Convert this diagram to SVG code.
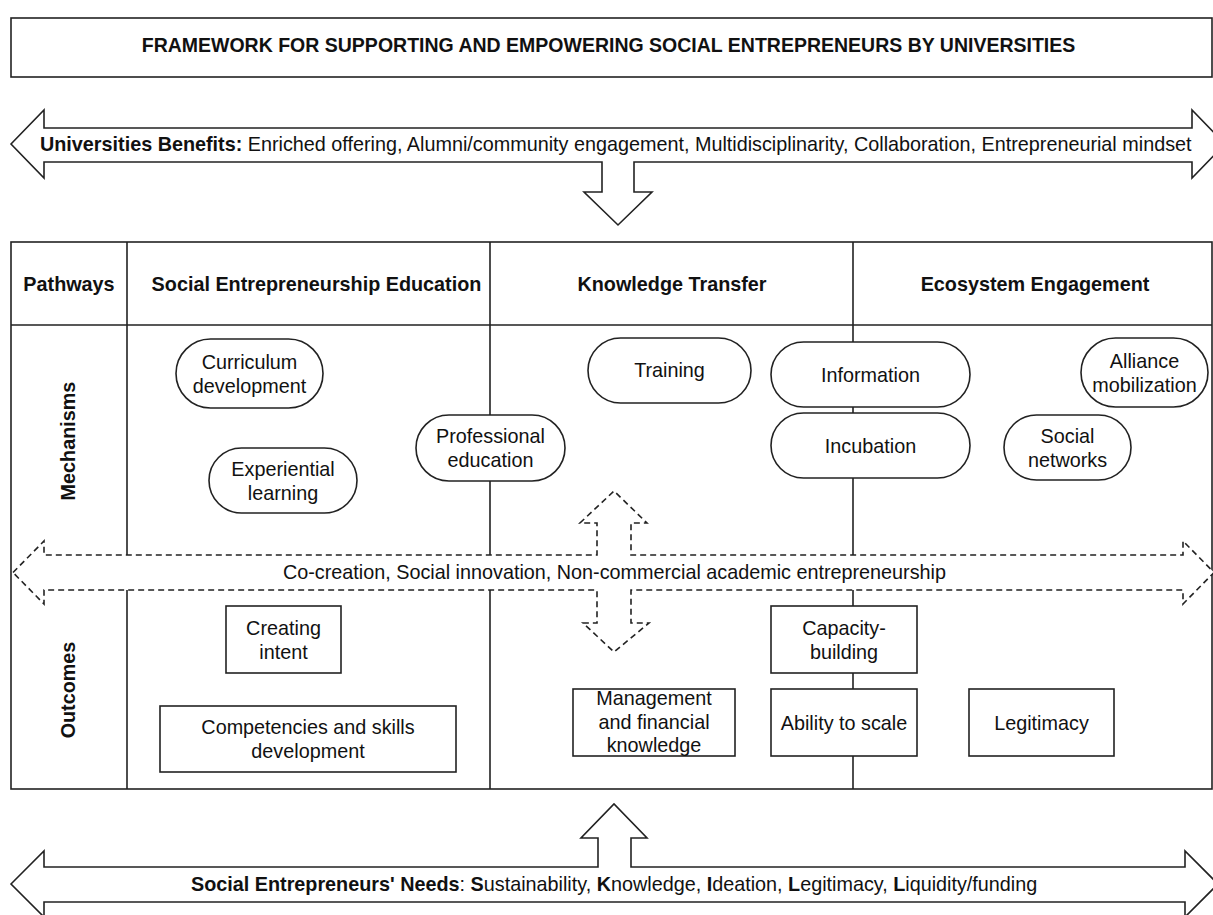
<svg xmlns="http://www.w3.org/2000/svg" width="1213" height="915" viewBox="0 0 1213 915">
<style>
.box{fill:#fff;stroke:#222;stroke-width:1.6}
.line{fill:none;stroke:#222;stroke-width:1.6}
.dash{fill:#fff;stroke:#222;stroke-width:1.6;stroke-dasharray:6 4}
text{font-family:"Liberation Sans",Arial,sans-serif;font-size:19.8px;fill:#111}
.c{text-anchor:middle}
.b{font-weight:bold}
</style>
<rect width="1213" height="915" fill="#fff"/>
<g id="title">
<rect class="box" x="11" y="18" width="1201" height="59"/>
<text class="c b" x="608.5" y="52" style="font-size:19.5px">FRAMEWORK FOR SUPPORTING AND EMPOWERING SOCIAL ENTREPRENEURS BY UNIVERSITIES</text>
</g>
<g id="table">
<rect class="box" x="11" y="242" width="1201" height="547"/>
<path class="line" d="M11 325H1212M127 242V555M127 590V789M490 242V555M490 590V789M853 242V555M853 590V789"/>
<text class="c b" x="69" y="291">Pathways</text>
<text class="c b" x="316.5" y="291">Social Entrepreneurship Education</text>
<text class="c b" x="672" y="291">Knowledge Transfer</text>
<text class="c b" x="1035" y="291">Ecosystem Engagement</text>
<text class="c b" transform="translate(75 441) rotate(-90)">Mechanisms</text>
<text class="c b" transform="translate(75 690) rotate(-90)">Outcomes</text>
</g>
<g id="connectors">
<path id="benefits-arrow" class="box" d="M11 144L44 110V128H1192V110L1225 144L1192 178V162H634V192H652L618 225L584 192H602V162H44V178Z"/>
<path id="needs-arrow" class="box" d="M11 884L44 851V867H598V838H581L614 804L647 838H631V867H1185V851L1218 884L1185 917V902H44V917Z"/>
<path id="cocreation-arrow" class="dash" d="M13 572.5L44 541V555H597V523H580L614 491L647 523H631V555H1183V541L1214 572.5L1183 604V590H631V623H649L614 652L583 623H597V590H44V604Z"/>
</g>
<text x="40" y="151"><tspan class="b">Universities Benefits:</tspan> Enriched offering, Alumni/community engagement, Multidisciplinarity, Collaboration, Entrepreneurial mindset</text>
<text x="191" y="891"><tspan class="b">Social Entrepreneurs' Needs</tspan>: <tspan class="b">S</tspan>ustainability, <tspan class="b">K</tspan>nowledge, <tspan class="b">I</tspan>deation, <tspan class="b">L</tspan>egitimacy, <tspan class="b">L</tspan>iquidity/funding</text>
<text class="c" x="614.5" y="579">Co-creation, Social innovation, Non-commercial academic entrepreneurship</text>
<g id="curriculum">
<rect class="box" x="176" y="339" width="147" height="69" rx="34.5"/>
<text class="c" x="249.5" y="368.5">Curriculum<tspan x="249.5" dy="24">development</tspan></text>
</g>
<g id="experiential">
<rect class="box" x="209" y="448" width="148" height="65" rx="32.5"/>
<text class="c" x="283" y="475.5">Experiential<tspan x="283" dy="24">learning</tspan></text>
</g>
<g id="professional">
<rect class="box" x="416" y="415" width="149" height="66" rx="33"/>
<text class="c" x="490.5" y="443">Professional<tspan x="490.5" dy="24">education</tspan></text>
</g>
<g id="training">
<rect class="box" x="588" y="338" width="163" height="65" rx="32.5"/>
<text class="c" x="669.5" y="377">Training</text>
</g>
<g id="information">
<rect class="box" x="771" y="342" width="199" height="65" rx="32.5"/>
<text class="c" x="870.5" y="381.5">Information</text>
</g>
<g id="incubation">
<rect class="box" x="771" y="413" width="199" height="65" rx="32.5"/>
<text class="c" x="870.5" y="452.5">Incubation</text>
</g>
<g id="alliance">
<rect class="box" x="1081" y="338" width="127" height="69" rx="34.5"/>
<text class="c" x="1144.5" y="367.5">Alliance<tspan x="1144.5" dy="24">mobilization</tspan></text>
</g>
<g id="social-networks">
<rect class="box" x="1004" y="415" width="127" height="65" rx="32.5"/>
<text class="c" x="1067.5" y="442.5">Social<tspan x="1067.5" dy="24">networks</tspan></text>
</g>
<g id="creating-intent">
<rect class="box" x="226" y="606" width="115" height="67"/>
<text class="c" x="283.5" y="634.5">Creating<tspan x="283.5" dy="24">intent</tspan></text>
</g>
<g id="competencies">
<rect class="box" x="160" y="706" width="296" height="66"/>
<text class="c" x="308" y="734">Competencies and skills<tspan x="308" dy="24">development</tspan></text>
</g>
<g id="management">
<rect class="box" x="573" y="689" width="162" height="67"/>
<text class="c" x="654" y="705">Management<tspan x="654" dy="23.5">and financial</tspan><tspan x="654" dy="23.5">knowledge</tspan></text>
</g>
<g id="capacity">
<rect class="box" x="771" y="606" width="146" height="67"/>
<text class="c" x="844" y="634.5">Capacity-<tspan x="844" dy="24">building</tspan></text>
</g>
<g id="ability">
<rect class="box" x="771" y="689" width="146" height="67"/>
<text class="c" x="844" y="729.5">Ability to scale</text>
</g>
<g id="legitimacy">
<rect class="box" x="969" y="689" width="145" height="67"/>
<text class="c" x="1041.5" y="729.5">Legitimacy</text>
</g>
</svg>
